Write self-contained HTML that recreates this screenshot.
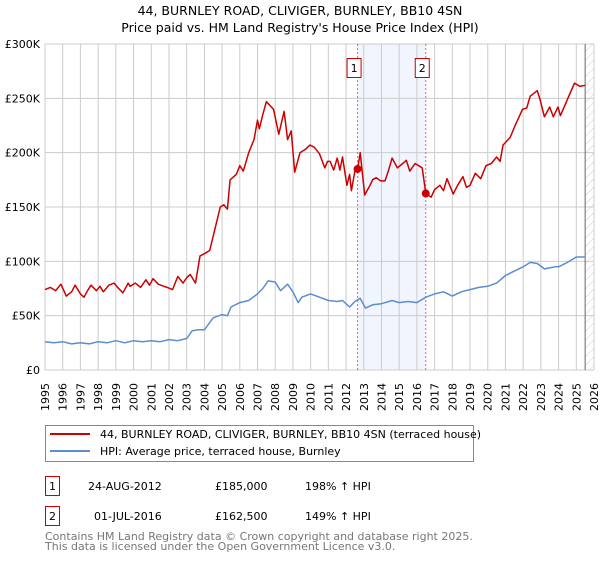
<!DOCTYPE html>
<html><head><meta charset="utf-8"><style>
body{margin:0;background:#fff;font-family:"DejaVu Sans","Liberation Sans",sans-serif;}
svg text{font-family:"DejaVu Sans","Liberation Sans",sans-serif;}
</style></head><body>
<svg id="chart" width="600" height="560" viewBox="0 0 600 560" xmlns="http://www.w3.org/2000/svg">
<defs><pattern id="hatch" patternUnits="userSpaceOnUse" width="6" height="6" patternTransform="rotate(45)"><line x1="0" y1="0" x2="0" y2="6" stroke="#ccc" stroke-width="1"/></pattern></defs>
<text x="300" y="15" text-anchor="middle" font-size="12.5">44, BURNLEY ROAD, CLIVIGER, BURNLEY, BB10 4SN</text>
<text x="300" y="32" text-anchor="middle" font-size="12.5">Price paid vs. HM Land Registry's House Price Index (HPI)</text>
<g id="plot"></g>
<g>
<rect x="45.5" y="425.5" width="428" height="36" fill="#fff" stroke="#888"/>
<line x1="50" y1="434" x2="90" y2="434" stroke="#cc0000" stroke-width="2"/>
<text x="100" y="438" font-size="11">44, BURNLEY ROAD, CLIVIGER, BURNLEY, BB10 4SN (terraced house)</text>
<line x1="50" y1="451" x2="90" y2="451" stroke="#5b8dd0" stroke-width="2"/>
<text x="100" y="455" font-size="11">HPI: Average price, terraced house, Burnley</text>
</g>
<g font-size="11">
<rect x="45.5" y="476.5" width="14" height="19" fill="#fff" stroke="#cc0000"/>
<text x="52.5" y="490" text-anchor="middle">1</text>
<text x="88" y="490">24-AUG-2012</text><text x="215" y="490">£185,000</text><text x="305" y="490">198% ↑ HPI</text>
<rect x="45.5" y="506.5" width="14" height="19" fill="#fff" stroke="#cc0000"/>
<text x="52.5" y="520" text-anchor="middle">2</text>
<text x="94" y="520">01-JUL-2016</text><text x="215" y="520">£162,500</text><text x="305" y="520">149% ↑ HPI</text>
</g>
<text x="45" y="540" font-size="11" fill="#777">Contains HM Land Registry data © Crown copyright and database right 2025.</text>
<text x="45" y="550" font-size="11" fill="#777">This data is licensed under the Open Government Licence v3.0.</text>
</svg>
<script>
const redYears=[1995,1995.3,1995.6,1995.9,1996.2,1996.5,1996.7,1997.0,1997.2,1997.4,1997.6,1997.9,1998.1,1998.3,1998.6,1998.9,1999.1,1999.4,1999.7,1999.8,2000.1,2000.4,2000.7,2000.9,2001.1,2001.4,2001.7,2001.9,2002.2,2002.5,2002.8,2003.0,2003.2,2003.5,2003.75,2004.0,2004.3,2004.6,2004.9,2005.1,2005.3,2005.45,2005.8,2006.0,2006.2,2006.5,2006.8,2007.0,2007.1,2007.3,2007.5,2007.9,2008.2,2008.5,2008.7,2008.9,2009.1,2009.4,2009.7,2009.96,2010.2,2010.5,2010.8,2010.95,2011.1,2011.3,2011.5,2011.65,2011.8,2012.05,2012.2,2012.3,2012.5,2012.65,2012.8,2013.05,2013.35,2013.5,2013.7,2013.95,2014.2,2014.4,2014.6,2014.9,2015.2,2015.4,2015.6,2015.9,2016.1,2016.3,2016.5,2016.8,2017.0,2017.3,2017.5,2017.7,2018.05,2018.3,2018.6,2018.8,2019.0,2019.3,2019.6,2019.9,2020.2,2020.5,2020.7,2020.86,2021.26,2021.6,2021.97,2022.2,2022.4,2022.8,2022.95,2023.2,2023.5,2023.7,2023.97,2024.1,2024.5,2024.9,2025.2,2025.5];
const redVals=[74,76,73,79,68,72,78,70,67,73,78,73,77,72,78,80,76,71,80,77,80,76,83,78,84,79,77,76,74,86,80,85,88,80,105,107,110,130,150,152,148,175,180,188,183,200,212,230,222,235,247,240,217,238,212,220,182,200,203,207,205,199,186,192,192,184,195,184,196,170,180,165,183,185,200,161,170,175,177,174,174,184,195,186,190,193,183,190,188,186,162.5,159,166,170,165,176,162,170,178,168,170,181,176,188,190,196,192,207,214,227,240,241,252,257,249,233,242,233,242,234,249,264,261,262];
const hpiYears=[1995,1995.5,1996,1996.5,1997,1997.5,1998,1998.5,1999,1999.5,2000,2000.5,2001,2001.5,2002,2002.5,2003,2003.3,2003.6,2004,2004.5,2005,2005.3,2005.5,2006,2006.5,2007,2007.3,2007.6,2008,2008.3,2008.7,2009,2009.3,2009.5,2010,2010.5,2011,2011.5,2011.8,2012.2,2012.5,2012.8,2013.1,2013.5,2014,2014.6,2015,2015.5,2016,2016.5,2017,2017.5,2018,2018.5,2019,2019.5,2020,2020.5,2021,2021.5,2022,2022.4,2022.8,2023.2,2023.5,2023.8,2024,2024.5,2025,2025.5];
const hpiVals=[26,25,26,24,25,24,26,25,27,25,27,26,27,26,28,27,29,36,37,37,48,51,50,58,62,64,70,75,82,81,73,79,72,62,67,70,67,64,63,64,58,63,66,57,60,61,64,62,63,62,67,70,72,68,72,74,76,77,80,87,91,95,99,98,93,94,95,95,99,104,104];
const yTicks=[0,50,100,150,200,250,300];
const yTickLabels=["£0","£50K","£100K","£150K","£200K","£250K","£300K"];
const xTicks=[1995,1996,1997,1998,1999,2000,2001,2002,2003,2004,2005,2006,2007,2008,2009,2010,2011,2012,2013,2014,2015,2016,2017,2018,2019,2020,2021,2022,2023,2024,2025,2026];
const sales=[{n:"1",year:2012.65,val:185},{n:"2",year:2016.5,val:162.5}];
const dataEnd=2025.5;

const X0=45,X1=594,Y0=370,Y1=44;
const sx=y=>X0+(y-1995)/(2026-1995)*(X1-X0);
const sy=v=>Y0-v/300*(Y0-Y1);
const NS="http://www.w3.org/2000/svg";
const plot=document.getElementById('plot');
function mk(tag,attrs,parent){const e=document.createElementNS(NS,tag);for(const k in attrs)e.setAttribute(k,attrs[k]);(parent||plot).appendChild(e);return e;}

const shade=mk('rect',{x:sx(sales[0].year),y:Y1,width:sx(sales[1].year)-sx(sales[0].year),height:Y0-Y1,fill:'#eef3fc',opacity:0.8});


const hatch=mk('rect',{x:sx(dataEnd),y:Y1,width:X1-sx(dataEnd),height:Y0-Y1,fill:'url(#hatch)'});



xTicks.forEach(t=>{
  const g=mk('line',{x1:sx(t),x2:sx(t),y1:Y1,y2:Y0,stroke:'#ccc','stroke-width':1});
  
  
  const tx=mk('text',{x:sx(t)+4,y:383,'font-size':11,'text-anchor':'end',transform:`rotate(-90 ${sx(t)+4} 383)`});
  tx.textContent=t;
  
  
});
yTicks.forEach((t,i)=>{
  const g=mk('line',{x1:X0,x2:X1,y1:sy(t),y2:sy(t),stroke:'#ccc','stroke-width':1});
  
  
  const tx=mk('text',{x:40,y:sy(t)+4,'font-size':11,'text-anchor':'end'});
  tx.textContent=yTickLabels[i];
  
  
});
const endLine=mk('line',{x1:sx(dataEnd),x2:sx(dataEnd),y1:Y1,y2:Y0,stroke:'#666','stroke-width':1});



sales.forEach(s=>{
  const l=mk('line',{x1:sx(s.year),x2:sx(s.year),y1:Y1,y2:Y0,stroke:'#f06060','stroke-width':1,'stroke-dasharray':'2,2'});
  
  
});

function path(xs,vs,color,name){
  const d=xs.map((x,i)=>(i?'L':'M')+sx(x).toFixed(1)+','+sy(vs[i]).toFixed(1)).join('');
  const p=mk('path',{d:d,fill:'none',stroke:color,'stroke-width':1.5,'stroke-linejoin':'round'});
  
  
}
path(hpiYears,hpiVals,'#5b8dd0','hpi-line');
path(redYears,redVals,'#cc0000','price-paid-line');

sales.forEach(s=>{
  const c=mk('circle',{cx:sx(s.year),cy:sy(s.val),r:4,fill:'#cc0000'});
  
  
  const b=mk('rect',{x:sx(s.year)-10.5,y:58.5,width:14,height:19,fill:'#fff',stroke:'#cc0000'});
  
  
  const t=mk('text',{x:sx(s.year)-3.5,y:72,'font-size':11,'text-anchor':'middle'});
  t.textContent=s.n;
  
  
});
</script>
</body></html>
